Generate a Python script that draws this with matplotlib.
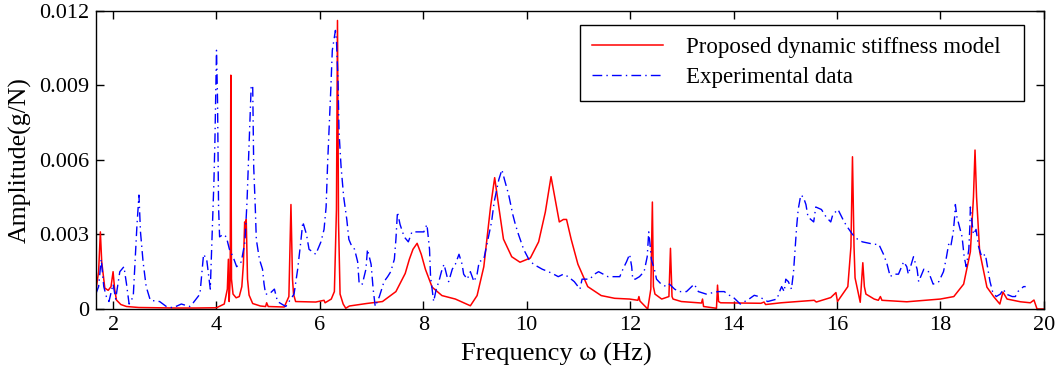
import matplotlib
matplotlib.use("Agg")
from matplotlib import pyplot as plt

plt.rcParams['font.family'] = ['Liberation Serif', 'DejaVu Serif']
plt.rcParams['font.size'] = 16

# model curve (Hz, g/N)
model_freq = [1.665, 1.72, 1.754, 1.78, 1.84, 1.905, 1.96, 2.0, 2.03, 2.065, 2.15, 2.26, 2.5, 2.8,
              3.2, 3.6, 4.0, 4.15, 4.21, 4.23, 4.245, 4.265, 4.277, 4.29, 4.32, 4.38, 4.44, 4.49,
              4.52, 4.545, 4.56, 4.575, 4.60, 4.63, 4.70, 4.85, 4.95, 4.97, 5.0, 5.31, 5.40, 5.44,
              5.47, 5.49, 5.53, 5.92, 6.08, 6.10, 6.22, 6.28, 6.32, 6.34, 6.36, 6.39, 6.45, 6.50,
              6.57, 6.90, 7.21, 7.47, 7.65, 7.73, 7.80, 7.88, 7.96, 8.04, 8.17, 8.36, 8.62, 8.91,
              9.04, 9.17, 9.30, 9.38, 9.46, 9.55, 9.71, 9.87, 10.07, 10.23, 10.36, 10.47, 10.55,
              10.63, 10.71, 10.77, 10.86, 10.99, 11.18, 11.44, 11.70, 11.99, 12.15, 12.17, 12.19,
              12.34, 12.40, 12.43, 12.45, 12.48, 12.61, 12.75, 12.78, 12.81, 12.83, 12.99, 13.38,
              13.40, 13.42, 13.67, 13.69, 13.71, 13.75, 14.53, 14.59, 14.62, 14.92, 15.56, 15.60,
              15.88, 15.98, 16.01, 16.21, 16.27, 16.30, 16.33, 16.35, 16.45, 16.50, 16.53, 16.56,
              16.72, 16.80, 16.84, 16.87, 17.35, 18.0, 18.26, 18.45, 18.58, 18.64, 18.67, 18.70,
              18.76, 18.90, 19.03, 19.15, 19.21, 19.29, 19.55, 19.74, 19.81, 19.87, 20.0]
model_amp = [0.0007, 0.0015, 0.0031, 0.0019, 0.00084, 0.00075, 0.0009, 0.0015, 0.0008, 0.00036,
             0.00018, 0.0001, 0.00006, 0.00005, 0.00004, 0.00004, 0.00005, 0.0002, 0.0008, 0.0020,
             0.0003, 0.0012, 0.0094, 0.0012, 0.0006, 0.00045, 0.0005, 0.0009, 0.0018, 0.0035,
             0.0030, 0.0036, 0.0012, 0.00056, 0.00022, 0.00012, 0.0001, 0.00025, 0.0001, 0.00008,
             0.0005, 0.0042, 0.0012, 0.0006, 0.0003, 0.00028, 0.00035, 0.00025, 0.0004, 0.0007,
             0.0040, 0.0116, 0.0035, 0.0006, 0.0002, 0.00003, 0.00012, 0.00022, 0.0003, 0.0007,
             0.00143, 0.0020, 0.0024, 0.00264, 0.0022, 0.0016, 0.00088, 0.00054, 0.0004, 0.00013,
             0.00054, 0.0017, 0.0041, 0.00528, 0.0041, 0.00281, 0.0021, 0.00188, 0.00205, 0.0027,
             0.0039, 0.00532, 0.0044, 0.0035, 0.0036, 0.0036, 0.0028, 0.0018, 0.0009, 0.00054,
             0.00043, 0.0004, 0.00035, 0.0005, 0.00032, 0.0, 0.0008, 0.0043, 0.0009, 0.0006,
             0.0004, 0.0005, 0.00244, 0.0005, 0.0004, 0.0003, 0.00024, 0.0004, 0.0001, 0.00003,
             0.00096, 0.0003, 0.00025, 0.00023, 0.00028, 0.00018, 0.00025, 0.00035, 0.00028,
             0.00046, 0.00066, 0.0003, 0.0009, 0.0025, 0.00612, 0.0025, 0.00125, 0.00027, 0.00186,
             0.0009, 0.0006, 0.0004, 0.00035, 0.0005, 0.00035, 0.00029, 0.0004, 0.0005, 0.001,
             0.0023, 0.0045, 0.00639, 0.0045, 0.0023, 0.00088, 0.0005, 0.0002, 0.00068, 0.0004,
             0.00029, 0.00025, 0.00036, 0.0, 0.0]

# experimental curve (Hz, g/N)
exp_freq = [1.665, 1.72, 1.77, 1.82, 1.87, 1.92, 2.0, 2.05, 2.13, 2.21, 2.26, 2.31, 2.39, 2.42,
            2.46, 2.50, 2.53, 2.58, 2.64, 2.72, 2.90, 3.03, 3.16, 3.32, 3.48, 3.55, 3.68, 3.75,
            3.81, 3.88, 3.92, 3.95, 3.97, 3.99, 4.0, 4.02, 4.03, 4.04, 4.06, 4.13, 4.19, 4.25,
            4.32, 4.39, 4.48, 4.55, 4.59, 4.63, 4.67, 4.70, 4.71, 4.72, 4.75, 4.77, 4.83, 4.89,
            4.92, 4.95, 5.02, 5.12, 5.18, 5.34, 5.50, 5.57, 5.63, 5.67, 5.74, 5.79, 5.92, 6.02,
            6.08, 6.12, 6.15, 6.18, 6.21, 6.24, 6.30, 6.32, 6.35, 6.37, 6.41, 6.46, 6.52, 6.56,
            6.60, 6.67, 6.73, 6.76, 6.82, 6.89, 6.92, 6.99, 7.03, 7.07, 7.15, 7.24, 7.31, 7.37,
            7.44, 7.47, 7.50, 7.55, 7.63, 7.71, 7.78, 7.91, 8.01, 8.07, 8.12, 8.14, 8.17, 8.20,
            8.25, 8.30, 8.35, 8.40, 8.46, 8.49, 8.56, 8.62, 8.69, 8.75, 8.78, 8.85, 8.91, 8.98,
            9.04, 9.08, 9.17, 9.23, 9.32, 9.37, 9.41, 9.46, 9.52, 9.57, 9.65, 9.73, 9.78, 9.84,
            9.94, 10.04, 10.13, 10.30, 10.42, 10.52, 10.61, 10.71, 10.80, 10.92, 11.03, 11.07,
            11.12, 11.22, 11.31, 11.39, 11.57, 11.80, 11.86, 11.93, 11.99, 12.03, 12.05, 12.10,
            12.18, 12.27, 12.33, 12.36, 12.38, 12.41, 12.48, 12.51, 12.60, 12.70, 12.76, 12.86,
            12.94, 13.09, 13.24, 13.32, 13.47, 13.70, 13.82, 13.92, 13.98, 14.13, 14.30, 14.40,
            14.49, 14.66, 14.84, 14.89, 14.93, 14.98, 15.01, 15.06, 15.12, 15.16, 15.19, 15.22,
            15.25, 15.30, 15.35, 15.40, 15.44, 15.55, 15.59, 15.70, 15.79, 15.88, 15.92, 16.02,
            16.14, 16.20, 16.30, 16.40, 16.49, 16.72, 16.81, 16.90, 16.97, 17.03, 17.09, 17.19,
            17.29, 17.35, 17.38, 17.48, 17.55, 17.58, 17.68, 17.77, 17.86, 17.97, 18.06, 18.11,
            18.16, 18.20, 18.25, 18.28, 18.29, 18.32, 18.37, 18.42, 18.46, 18.50, 18.55, 18.57,
            18.58, 18.61, 18.64, 18.69, 18.74, 18.80, 18.87, 18.91, 18.96, 19.01, 19.08, 19.16,
            19.22, 19.27, 19.39, 19.45, 19.50, 19.55, 19.61, 19.65]
exp_amp = [0.0006, 0.0009, 0.0020, 0.0009, 0.0005, 0.0003, 0.0010, 0.0004, 0.0015, 0.0017, 0.0010,
           0.0002, 0.0005, 0.0017, 0.0033, 0.00458, 0.0031, 0.0019, 0.0009, 0.00035, 0.0003,
           0.0001, 0.00005, 0.0002, 0.0001, 0.00025, 0.0006, 0.0022, 0.0020, 0.0008, 0.0033,
           0.0051, 0.0068, 0.0091, 0.0104, 0.0084, 0.0064, 0.0041, 0.0029, 0.0030, 0.0029,
           0.0024, 0.0021, 0.0017, 0.0019, 0.0027, 0.0043, 0.0066, 0.0089, 0.0090, 0.0075,
           0.0057, 0.0041, 0.0028, 0.0020, 0.0016, 0.0010, 0.0006, 0.0006, 0.0008, 0.0003,
           0.0001, 0.0006, 0.0016, 0.0027, 0.0035, 0.0030, 0.0024, 0.0022, 0.0027, 0.0032,
           0.0041, 0.0059, 0.0073, 0.0088, 0.0104, 0.0112, 0.0108, 0.0092, 0.0071, 0.0057,
           0.0045, 0.0036, 0.0028, 0.0026, 0.0024, 0.0019, 0.0010, 0.0010, 0.0016, 0.0024,
           0.0018, 0.0008, 0.0001, 0.0005, 0.0011, 0.0013, 0.0015, 0.0020, 0.0028, 0.0039,
           0.0034, 0.0029, 0.0027, 0.0031, 0.0031, 0.0031, 0.0034, 0.0024, 0.0013, 0.0008,
           0.0003, 0.0008, 0.0011, 0.0015, 0.0018, 0.0013, 0.0011, 0.0016, 0.0018, 0.0022,
           0.0018, 0.0014, 0.0012, 0.0015, 0.0011, 0.0014, 0.0019, 0.0020, 0.0026, 0.0035,
           0.0043, 0.0047, 0.0052, 0.0056, 0.0052, 0.0046, 0.0038, 0.0034, 0.0030, 0.0024,
           0.0020, 0.0018, 0.0016, 0.0015, 0.0014, 0.0013, 0.0014, 0.0013, 0.0011, 0.0008,
           0.0012, 0.0012, 0.0012, 0.0014, 0.0015, 0.0013, 0.0013, 0.0016, 0.0019, 0.0022,
           0.0017, 0.0012, 0.0012, 0.0013, 0.0015, 0.0021, 0.0031, 0.0027, 0.0020, 0.0015,
           0.0012, 0.0010, 0.0009, 0.0010, 0.0008, 0.0007, 0.0007, 0.0010, 0.0007, 0.0006,
           0.0007, 0.0007, 0.00055, 0.0005, 0.0002, 0.0004, 0.00055, 0.0005, 0.0003, 0.0004,
           0.0007, 0.0009, 0.0007, 0.0012, 0.0011, 0.0008, 0.0015, 0.0024, 0.0033, 0.0040,
           0.00458, 0.0045, 0.0042, 0.0037, 0.0035, 0.0041, 0.0040, 0.0037, 0.0035, 0.0038,
           0.0040, 0.0035, 0.0033, 0.0030, 0.0028, 0.0027, 0.0026, 0.0026, 0.0022, 0.0018,
           0.0013, 0.0014, 0.0014, 0.0019, 0.0017, 0.0014, 0.0021, 0.0016, 0.0011, 0.0016,
           0.0015, 0.0010, 0.0011, 0.0015, 0.0020, 0.0026, 0.0025, 0.0031, 0.0038, 0.0042,
           0.0037, 0.0033, 0.0029, 0.0021, 0.0017, 0.0024, 0.0033, 0.0041, 0.0035, 0.0030,
           0.0032, 0.0025, 0.0021, 0.0022, 0.0017, 0.0011, 0.0007, 0.0005, 0.0006, 0.0008,
           0.0006, 0.0005, 0.0005, 0.0007, 0.0008, 0.0009, 0.0009]

x_ticks = [2, 4, 6, 8, 10, 12, 14, 16, 18, 20]
y_ticks = [0, 0.003, 0.006, 0.009, 0.012]
y_labels = ['0', '0.003', '0.006', '0.009', '0.012']

fig, ax = plt.subplots(figsize=(10.64, 3.75), dpi=100)
fig.subplots_adjust(left=0.090, right=0.981, top=0.972, bottom=0.176)

ax.plot(model_freq, model_amp, color='red', lw=1.1, label='Proposed dynamic stiffness model')
ax.plot(exp_freq, exp_amp, color='blue', lw=1.0, dashes=(7, 3, 1, 3), label='Experimental data')

ax.set_xlim(1.665, 20)
ax.set_ylim(0, 0.012)
ax.set_xticks(x_ticks)
ax.set_yticks(y_ticks)
ax.set_yticklabels(y_labels)
ax.tick_params(direction='in', top=True, right=True, length=6, width=1, labelsize=16, pad=5)
for s in ax.spines.values():
    s.set_linewidth(1.0)

ax.set_xlabel('Frequency ω (Hz)', fontsize=19)
ax.xaxis.set_label_coords(0.486, -0.115)
ax.set_ylabel('Amplitude(g/N)', fontsize=18.5, labelpad=5)

leg = ax.legend(loc='upper left', bbox_to_anchor=(0.5105, 0.70, 0.469, 0.252), mode='expand',
                borderaxespad=0, fontsize=16.5, fancybox=False, framealpha=1, edgecolor='black',
                handlelength=3.1, handletextpad=1.0, borderpad=0.54, labelspacing=0.4)
leg.get_frame().set_linewidth(1.0)

fig.savefig('out.png', dpi=100)
